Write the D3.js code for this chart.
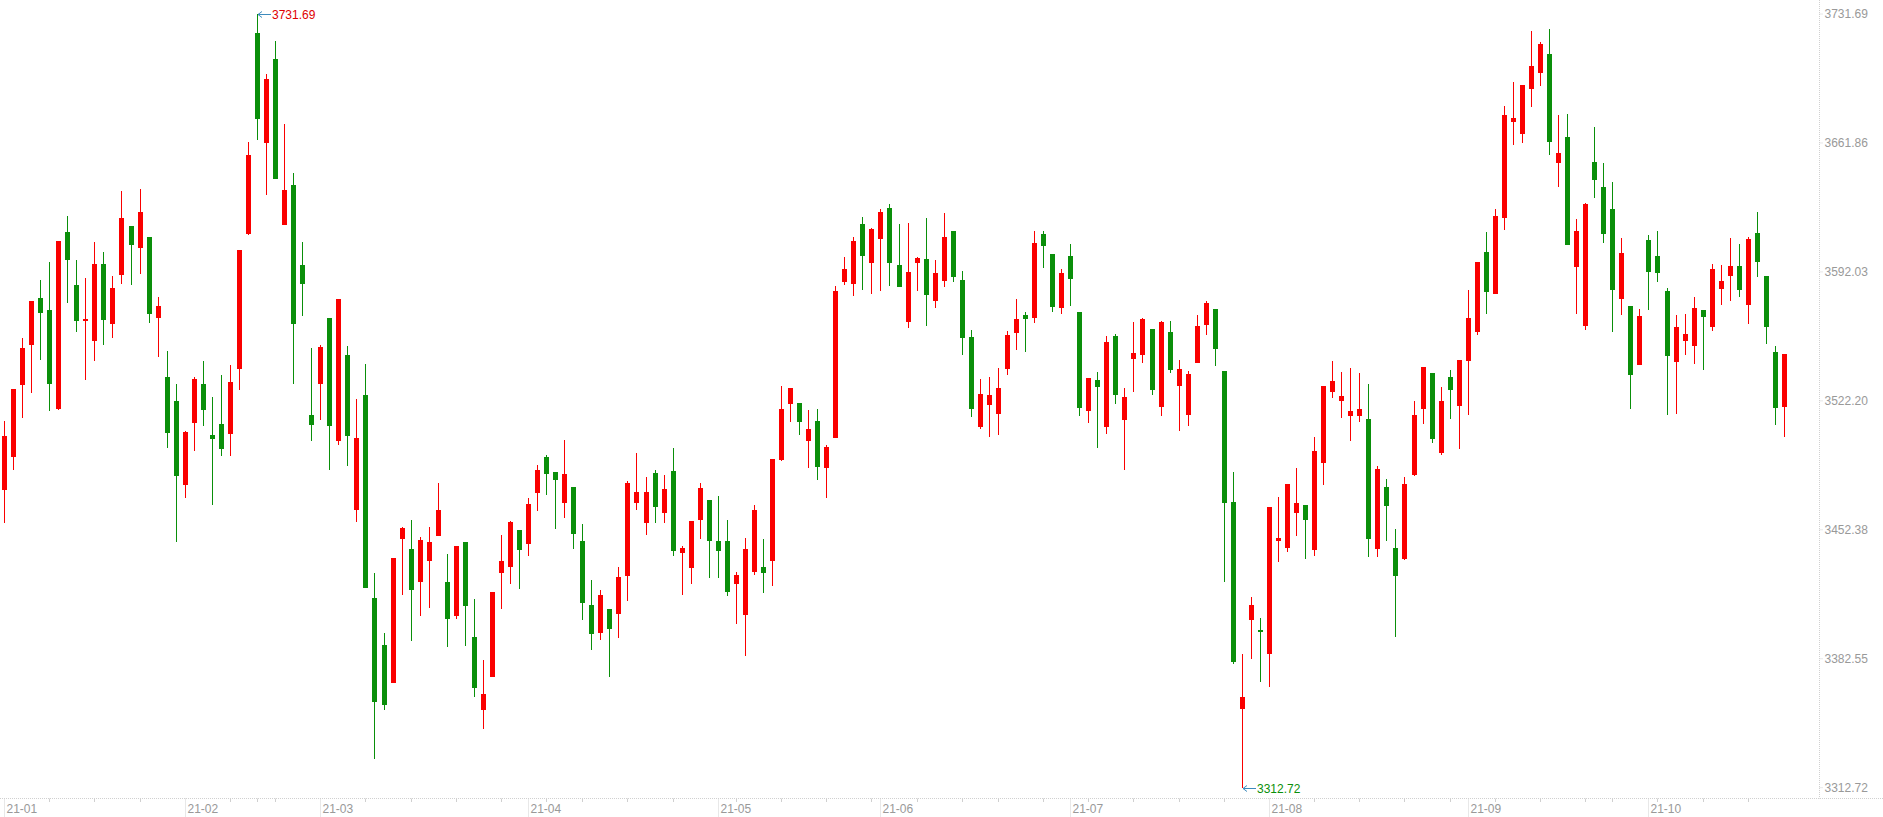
<!DOCTYPE html>
<html>
<head>
<meta charset="utf-8">
<script src="https://cdn.jsdelivr.net/npm/d3@7"></script>
<style>
    html, body { margin: 0; padding: 0; background: #fff; overflow: hidden; }
    svg { display: block; }
    text { font-family: "Liberation Sans", Arial, sans-serif; font-size: 12px; }
</style>
</head>
<body>
<div id="chart"></div>
<script>
// trading days shown on the chart
const dates = [
    '2021-01-04','2021-01-05','2021-01-06','2021-01-07','2021-01-08','2021-01-11','2021-01-12','2021-01-13','2021-01-14','2021-01-15',
    '2021-01-18','2021-01-19','2021-01-20','2021-01-21','2021-01-22','2021-01-25','2021-01-26','2021-01-27','2021-01-28','2021-01-29',
    '2021-02-01','2021-02-02','2021-02-03','2021-02-04','2021-02-05','2021-02-08','2021-02-09','2021-02-10','2021-02-18','2021-02-19',
    '2021-02-22','2021-02-23','2021-02-24','2021-02-25','2021-02-26','2021-03-01','2021-03-02','2021-03-03','2021-03-04','2021-03-05',
    '2021-03-08','2021-03-09','2021-03-10','2021-03-11','2021-03-12','2021-03-15','2021-03-16','2021-03-17','2021-03-18','2021-03-19',
    '2021-03-22','2021-03-23','2021-03-24','2021-03-25','2021-03-26','2021-03-29','2021-03-30','2021-03-31','2021-04-01','2021-04-02',
    '2021-04-06','2021-04-07','2021-04-08','2021-04-09','2021-04-12','2021-04-13','2021-04-14','2021-04-15','2021-04-16','2021-04-19',
    '2021-04-20','2021-04-21','2021-04-22','2021-04-23','2021-04-26','2021-04-27','2021-04-28','2021-04-29','2021-04-30','2021-05-06',
    '2021-05-07','2021-05-10','2021-05-11','2021-05-12','2021-05-13','2021-05-14','2021-05-17','2021-05-18','2021-05-19','2021-05-20',
    '2021-05-21','2021-05-24','2021-05-25','2021-05-26','2021-05-27','2021-05-28','2021-05-31','2021-06-01','2021-06-02','2021-06-03',
    '2021-06-04','2021-06-07','2021-06-08','2021-06-09','2021-06-10','2021-06-11','2021-06-15','2021-06-16','2021-06-17','2021-06-18',
    '2021-06-21','2021-06-22','2021-06-23','2021-06-24','2021-06-25','2021-06-28','2021-06-29','2021-06-30','2021-07-01','2021-07-02',
    '2021-07-05','2021-07-06','2021-07-07','2021-07-08','2021-07-09','2021-07-12','2021-07-13','2021-07-14','2021-07-15','2021-07-16',
    '2021-07-19','2021-07-20','2021-07-21','2021-07-22','2021-07-23','2021-07-26','2021-07-27','2021-07-28','2021-07-29','2021-07-30',
    '2021-08-02','2021-08-03','2021-08-04','2021-08-05','2021-08-06','2021-08-09','2021-08-10','2021-08-11','2021-08-12','2021-08-13',
    '2021-08-16','2021-08-17','2021-08-18','2021-08-19','2021-08-20','2021-08-23','2021-08-24','2021-08-25','2021-08-26','2021-08-27',
    '2021-08-30','2021-08-31','2021-09-01','2021-09-02','2021-09-03','2021-09-06','2021-09-07','2021-09-08','2021-09-09','2021-09-10',
    '2021-09-13','2021-09-14','2021-09-15','2021-09-16','2021-09-17','2021-09-22','2021-09-23','2021-09-24','2021-09-27','2021-09-28',
    '2021-09-29','2021-09-30','2021-10-08','2021-10-11','2021-10-12','2021-10-13','2021-10-14','2021-10-15','2021-10-18','2021-10-19',
    '2021-10-20','2021-10-21','2021-10-22','2021-10-25','2021-10-26','2021-10-27','2021-10-28','2021-10-29'
];

const openPrices = [
    3473.92, 3491.79, 3530.78, 3552.44, 3577.89, 3571.40, 3517.78, 3613.64, 3584.93, 3566.25,
    3554.61, 3596.31, 3563.81, 3590.35, 3616.88, 3604.97, 3610.93, 3567.06, 3535.11, 3522.12,
    3476.90, 3510.47, 3531.21, 3503.65, 3509.71, 3504.19, 3539.61, 3612.61, 3721.51, 3661.67,
    3707.32, 3617.59, 3639.09, 3595.77, 3514.43, 3531.49, 3567.17, 3500.24, 3546.97, 3463.25,
    3525.47, 3415.49, 3389.98, 3369.51, 3447.22, 3442.24, 3424.26, 3435.63, 3449.17, 3424.10,
    3405.85, 3445.76, 3394.32, 3354.95, 3372.82, 3429.14, 3432.38, 3452.26, 3444.84, 3472.46,
    3491.79, 3483.67, 3467.04, 3475.54, 3446.30, 3411.64, 3396.64, 3409.48, 3406.93, 3427.51,
    3467.04, 3456.21, 3483.13, 3461.63, 3484.21, 3439.97, 3431.84, 3457.84, 3468.50, 3446.30,
    3446.30, 3423.18, 3406.39, 3429.68, 3432.22, 3435.63, 3490.17, 3520.66, 3521.03, 3500.62,
    3511.29, 3486.00, 3502.24, 3586.72, 3585.64, 3618.00, 3597.00, 3610.00, 3626.63, 3595.76,
    3565.06, 3597.01, 3599.01, 3576.43, 3587.26, 3614.18, 3587.64, 3556.77, 3508.20, 3520.11,
    3515.24, 3539.61, 3559.10, 3568.69, 3567.23, 3612.55, 3601.72, 3572.64, 3600.64, 3570.31,
    3516.86, 3533.49, 3508.20, 3557.32, 3511.99, 3545.02, 3547.19, 3561.11, 3519.03, 3559.48,
    3530.40, 3514.70, 3542.86, 3563.44, 3571.94, 3538.36, 3467.42, 3355.49, 3403.68, 3398.11,
    3385.27, 3446.47, 3442.67, 3461.63, 3465.80, 3441.59, 3488.70, 3527.15, 3522.28, 3514.16,
    3514.00, 3512.48, 3442.24, 3475.71, 3442.67, 3436.61, 3482.26, 3517.95, 3537.28, 3494.23,
    3535.11, 3519.25, 3543.99, 3559.70, 3602.97, 3580.33, 3621.43, 3673.42, 3666.87, 3691.24,
    3699.52, 3709.97, 3651.22, 3665.14, 3594.90, 3562.95, 3651.54, 3638.00, 3626.09, 3577.52,
    3573.56, 3541.77, 3609.30, 3600.64, 3581.68, 3543.40, 3554.77, 3552.06, 3571.40, 3562.35,
    3582.93, 3589.97, 3595.22, 3574.27, 3613.09, 3589.81, 3548.49, 3519.03
];

const highPrices = [
    3511.29, 3528.61, 3556.07, 3576.27, 3587.64, 3597.39, 3608.76, 3622.30, 3598.47, 3588.72,
    3608.22, 3602.80, 3589.81, 3635.84, 3616.88, 3636.92, 3610.93, 3578.44, 3549.19, 3531.32,
    3505.76, 3535.17, 3543.83, 3524.39, 3536.20, 3541.72, 3603.94, 3662.48, 3731.69, 3699.20,
    3717.07, 3672.17, 3645.64, 3608.11, 3550.65, 3552.50, 3567.17, 3577.41, 3551.96, 3523.09,
    3542.26, 3428.86, 3396.59, 3436.99, 3453.78, 3457.46, 3448.31, 3453.88, 3477.71, 3439.26,
    3443.59, 3445.76, 3414.89, 3381.86, 3418.68, 3449.55, 3457.13, 3452.26, 3469.59, 3487.46,
    3492.87, 3483.67, 3501.00, 3475.54, 3455.51, 3425.18, 3419.77, 3409.48, 3432.22, 3478.63,
    3493.96, 3480.96, 3484.75, 3482.04, 3496.66, 3443.59, 3457.13, 3477.71, 3468.50, 3470.67,
    3457.67, 3429.51, 3447.93, 3465.80, 3447.39, 3490.71, 3530.24, 3529.16, 3521.03, 3517.24,
    3517.78, 3498.29, 3584.39, 3599.90, 3611.00, 3622.00, 3615.90, 3626.00, 3628.80, 3617.97,
    3618.51, 3600.10, 3621.22, 3598.47, 3623.92, 3614.18, 3592.52, 3560.57, 3534.03, 3535.11,
    3539.99, 3560.02, 3577.35, 3570.31, 3614.18, 3614.18, 3601.72, 3593.60, 3607.14, 3570.31,
    3534.57, 3537.82, 3557.32, 3558.40, 3529.16, 3564.90, 3567.06, 3561.11, 3565.44, 3565.44,
    3544.32, 3538.36, 3568.69, 3576.27, 3571.94, 3538.36, 3483.67, 3385.11, 3416.14, 3404.77,
    3464.71, 3470.29, 3477.33, 3485.83, 3465.80, 3502.62, 3530.24, 3543.78, 3537.82, 3539.99,
    3537.28, 3531.38, 3487.03, 3480.09, 3452.91, 3481.18, 3522.28, 3540.53, 3537.28, 3529.86,
    3539.01, 3544.43, 3582.28, 3597.50, 3613.63, 3626.20, 3681.92, 3694.97, 3693.19, 3722.59,
    3716.47, 3723.67, 3677.10, 3677.54, 3620.78, 3629.50, 3670.50, 3651.00, 3640.71, 3610.39,
    3573.56, 3571.94, 3612.01, 3614.18, 3583.15, 3568.69, 3569.23, 3578.44, 3571.40, 3596.31,
    3595.76, 3610.39, 3607.14, 3610.77, 3624.47, 3589.81, 3551.90, 3547.57
];

const lowPrices = [
    3456.05, 3485.00, 3513.07, 3526.61, 3544.32, 3516.86, 3517.24, 3575.35, 3559.64, 3533.49,
    3543.78, 3552.44, 3556.23, 3585.48, 3584.93, 3590.89, 3564.36, 3545.94, 3496.66, 3445.76,
    3469.53, 3495.26, 3508.36, 3465.58, 3492.39, 3492.12, 3528.08, 3612.06, 3663.51, 3633.56,
    3642.23, 3617.59, 3531.21, 3568.25, 3500.51, 3511.77, 3484.75, 3498.40, 3486.86, 3456.43,
    3420.96, 3328.30, 3354.57, 3369.51, 3417.33, 3392.37, 3405.85, 3410.18, 3449.17, 3389.06,
    3404.23, 3389.60, 3361.99, 3344.66, 3372.82, 3409.64, 3423.18, 3420.47, 3438.34, 3462.71,
    3471.37, 3452.96, 3458.92, 3442.13, 3403.68, 3387.44, 3392.85, 3372.82, 3393.94, 3413.97,
    3463.25, 3449.71, 3456.21, 3456.21, 3438.34, 3417.22, 3423.18, 3447.55, 3426.43, 3426.43,
    3416.68, 3401.52, 3384.19, 3428.05, 3418.31, 3422.10, 3489.63, 3510.91, 3503.87, 3486.00,
    3479.50, 3469.75, 3502.24, 3585.10, 3579.14, 3582.39, 3580.22, 3581.85, 3584.55, 3584.01,
    3561.81, 3581.85, 3562.89, 3572.64, 3584.01, 3586.72, 3547.19, 3513.61, 3507.12, 3502.78,
    3503.87, 3536.36, 3549.90, 3548.81, 3564.52, 3594.30, 3570.48, 3569.39, 3573.72, 3514.16,
    3510.37, 3496.83, 3504.41, 3520.65, 3484.91, 3527.15, 3542.86, 3525.53, 3514.16, 3537.44,
    3506.03, 3508.74, 3542.86, 3558.02, 3541.23, 3424.26, 3379.86, 3312.72, 3382.56, 3370.11,
    3367.40, 3435.08, 3440.51, 3449.17, 3436.72, 3438.34, 3476.79, 3523.90, 3513.07, 3500.62,
    3510.74, 3437.90, 3437.47, 3446.14, 3394.59, 3436.18, 3481.39, 3509.88, 3499.21, 3493.15,
    3512.48, 3496.18, 3514.64, 3557.70, 3569.44, 3580.33, 3614.94, 3661.02, 3662.10, 3681.49,
    3692.97, 3655.60, 3638.17, 3606.87, 3569.01, 3560.35, 3632.21, 3607.84, 3559.64, 3568.85,
    3517.95, 3541.77, 3571.56, 3586.72, 3514.70, 3515.24, 3547.03, 3542.32, 3539.07, 3560.18,
    3574.27, 3576.43, 3578.60, 3563.98, 3589.43, 3553.15, 3509.28, 3502.78
];

const closePrices = [
    3503.16, 3528.61, 3550.82, 3576.27, 3569.77, 3531.32, 3608.76, 3598.47, 3565.44, 3566.52,
    3596.31, 3565.98, 3583.31, 3621.22, 3606.60, 3624.47, 3569.23, 3573.56, 3504.79, 3481.50,
    3505.22, 3534.08, 3517.03, 3501.81, 3496.28, 3532.51, 3603.94, 3655.39, 3675.05, 3696.60,
    3642.23, 3636.49, 3564.03, 3585.31, 3508.90, 3551.41, 3508.36, 3577.41, 3503.38, 3502.08,
    3420.96, 3359.28, 3357.71, 3436.99, 3453.29, 3419.93, 3446.84, 3445.76, 3463.09, 3404.23,
    3443.59, 3411.27, 3366.86, 3363.45, 3418.68, 3435.47, 3456.59, 3441.59, 3466.34, 3484.75,
    3482.75, 3479.50, 3482.58, 3450.26, 3412.89, 3396.10, 3417.06, 3398.81, 3426.81, 3477.71,
    3472.84, 3472.84, 3464.88, 3474.46, 3441.05, 3442.51, 3457.13, 3475.00, 3446.46, 3441.05,
    3418.85, 3427.89, 3441.97, 3463.09, 3429.14, 3490.71, 3517.78, 3529.16, 3510.91, 3506.95,
    3486.54, 3497.21, 3581.68, 3593.40, 3608.90, 3600.80, 3615.50, 3624.70, 3597.01, 3584.01,
    3591.97, 3599.56, 3579.68, 3591.43, 3610.93, 3589.43, 3556.40, 3517.95, 3525.91, 3525.37,
    3529.16, 3557.86, 3566.52, 3566.68, 3607.68, 3606.22, 3573.18, 3591.43, 3588.35, 3518.49,
    3534.57, 3529.86, 3554.07, 3525.53, 3524.28, 3548.11, 3566.52, 3528.24, 3564.90, 3539.07,
    3539.45, 3536.74, 3562.73, 3575.19, 3550.44, 3467.04, 3380.94, 3361.82, 3411.64, 3397.19,
    3464.71, 3447.93, 3477.33, 3466.88, 3457.84, 3495.04, 3530.24, 3532.95, 3524.82, 3516.70,
    3517.95, 3447.22, 3485.29, 3465.53, 3427.24, 3477.22, 3514.64, 3540.53, 3501.81, 3522.28,
    3527.91, 3544.43, 3567.06, 3597.50, 3581.41, 3622.30, 3677.10, 3675.37, 3693.19, 3703.64,
    3715.39, 3662.53, 3656.47, 3606.87, 3614.29, 3628.85, 3641.79, 3612.71, 3582.39, 3602.26,
    3536.36, 3568.15, 3592.14, 3591.59, 3546.65, 3562.19, 3558.40, 3572.48, 3567.77, 3593.60,
    3587.10, 3595.22, 3582.39, 3609.84, 3597.39, 3562.35, 3518.49, 3547.57
];

// right-hand price labels
const yTickLabels = ['3731.69', '3661.86', '3592.03', '3522.20', '3452.38', '3382.55', '3312.72'];

const upColor = '#fa0000';
const downColor = '#0a8f0a';
const axisColor = '#d0d0d0';
const labelColor = '#999';

const width = 1883, height = 817;
const axisY = 798.5;      // bottom axis line
const axisX = 1819.5;     // right axis line

const parseDate = d3.timeParse('%Y-%m-%d');
const data = dates.map((d, i) => ({
    key: d,
    date: parseDate(d),
    open: openPrices[i],
    high: highPrices[i],
    low: lowPrices[i],
    close: closePrices[i]
}));

const svg = d3.select('#chart').append('svg')
    .attr('width', width)
    .attr('height', height);

const x = d3.scaleBand()
    .domain(dates)
    .range([0, 1789]);

const y = d3.scaleLinear()
    .domain([+yTickLabels[yTickLabels.length - 1], +yTickLabels[0]])
    .range([787.7, 14]);

const cx = d => Math.floor(x(d.key) + x.bandwidth() / 2);

// axis lines (dotted)
svg.append('line')
    .attr('x1', 0).attr('x2', width)
    .attr('y1', axisY).attr('y2', axisY)
    .attr('stroke', axisColor)
    .attr('stroke-dasharray', '1,1');

svg.append('line')
    .attr('x1', axisX).attr('x2', axisX)
    .attr('y1', 0).attr('y2', axisY)
    .attr('stroke', axisColor)
    .attr('stroke-dasharray', '1,1');

// price labels on the right
const yTicks = svg.append('g').selectAll('g')
    .data(yTickLabels)
    .enter().append('g')
    .attr('transform', d => `translate(0,${y(+d)})`);

yTicks.append('line')
    .attr('x1', axisX).attr('x2', axisX + 4)
    .attr('stroke', axisColor)
    .attr('stroke-dasharray', '1,1');

yTicks.append('text')
    .attr('x', axisX + 5)
    .attr('dy', '0.35em')
    .attr('fill', labelColor)
    .text(d => d);

// month and week ticks along the bottom
const monthStarts = data.filter((d, i) => i === 0 || d.date.getMonth() !== data[i - 1].date.getMonth());
const weekStarts = data.filter((d, i) => i > 0
    && +d3.timeMonday.floor(d.date) !== +d3.timeMonday.floor(data[i - 1].date)
    && d.date.getMonth() === data[i - 1].date.getMonth());

svg.append('g').selectAll('line')
    .data(weekStarts)
    .enter().append('line')
    .attr('x1', d => cx(d) + 0.5).attr('x2', d => cx(d) + 0.5)
    .attr('y1', axisY).attr('y2', axisY + 3.5)
    .attr('stroke', axisColor);

const months = svg.append('g').selectAll('g')
    .data(monthStarts)
    .enter().append('g')
    .attr('transform', d => `translate(${cx(d) + 0.5},0)`);

months.append('line')
    .attr('y1', axisY).attr('y2', height)
    .attr('stroke', axisColor)
    .attr('stroke-dasharray', '1,1');

months.append('text')
    .attr('x', 2)
    .attr('y', 809)
    .attr('dy', '0.35em')
    .attr('fill', labelColor)
    .text(d => d3.timeFormat('%y-%m')(d.date));

// candles
const candles = svg.append('g')
    .attr('shape-rendering', 'crispEdges')
    .selectAll('g')
    .data(data)
    .enter().append('g')
    .attr('fill', d => d.close >= d.open ? upColor : downColor);

candles.append('rect')
    .attr('x', d => cx(d))
    .attr('width', 1)
    .attr('y', d => y(d.high))
    .attr('height', d => Math.max(1, y(d.low) - y(d.high)));

candles.append('rect')
    .attr('x', d => cx(d) - 2)
    .attr('width', 5)
    .attr('y', d => y(Math.max(d.open, d.close)))
    .attr('height', d => Math.max(1.5, Math.abs(y(d.open) - y(d.close))));

// highest / lowest markers
const maxPoint = data.reduce((a, b) => b.high > a.high ? b : a);
const minPoint = data.reduce((a, b) => b.low < a.low ? b : a);

function marker(d, value, color) {
    const g = svg.append('g')
        .attr('transform', `translate(${cx(d) + 1},${Math.round(y(value)) + 0.5})`);
    g.append('path')
        .attr('d', 'M0,0H13M0,0L4,-3M0,0L4,3')
        .attr('fill', 'none')
        .attr('stroke', '#3d8bbd')
        .attr('stroke-width', 1);
    g.append('text')
        .attr('x', 14)
        .attr('dy', '0.35em')
        .attr('fill', color)
        .text(value.toFixed(2));
}

marker(maxPoint, maxPoint.high, '#e00000');
marker(minPoint, minPoint.low, '#0a8f0a');
</script>
</body>
</html>
